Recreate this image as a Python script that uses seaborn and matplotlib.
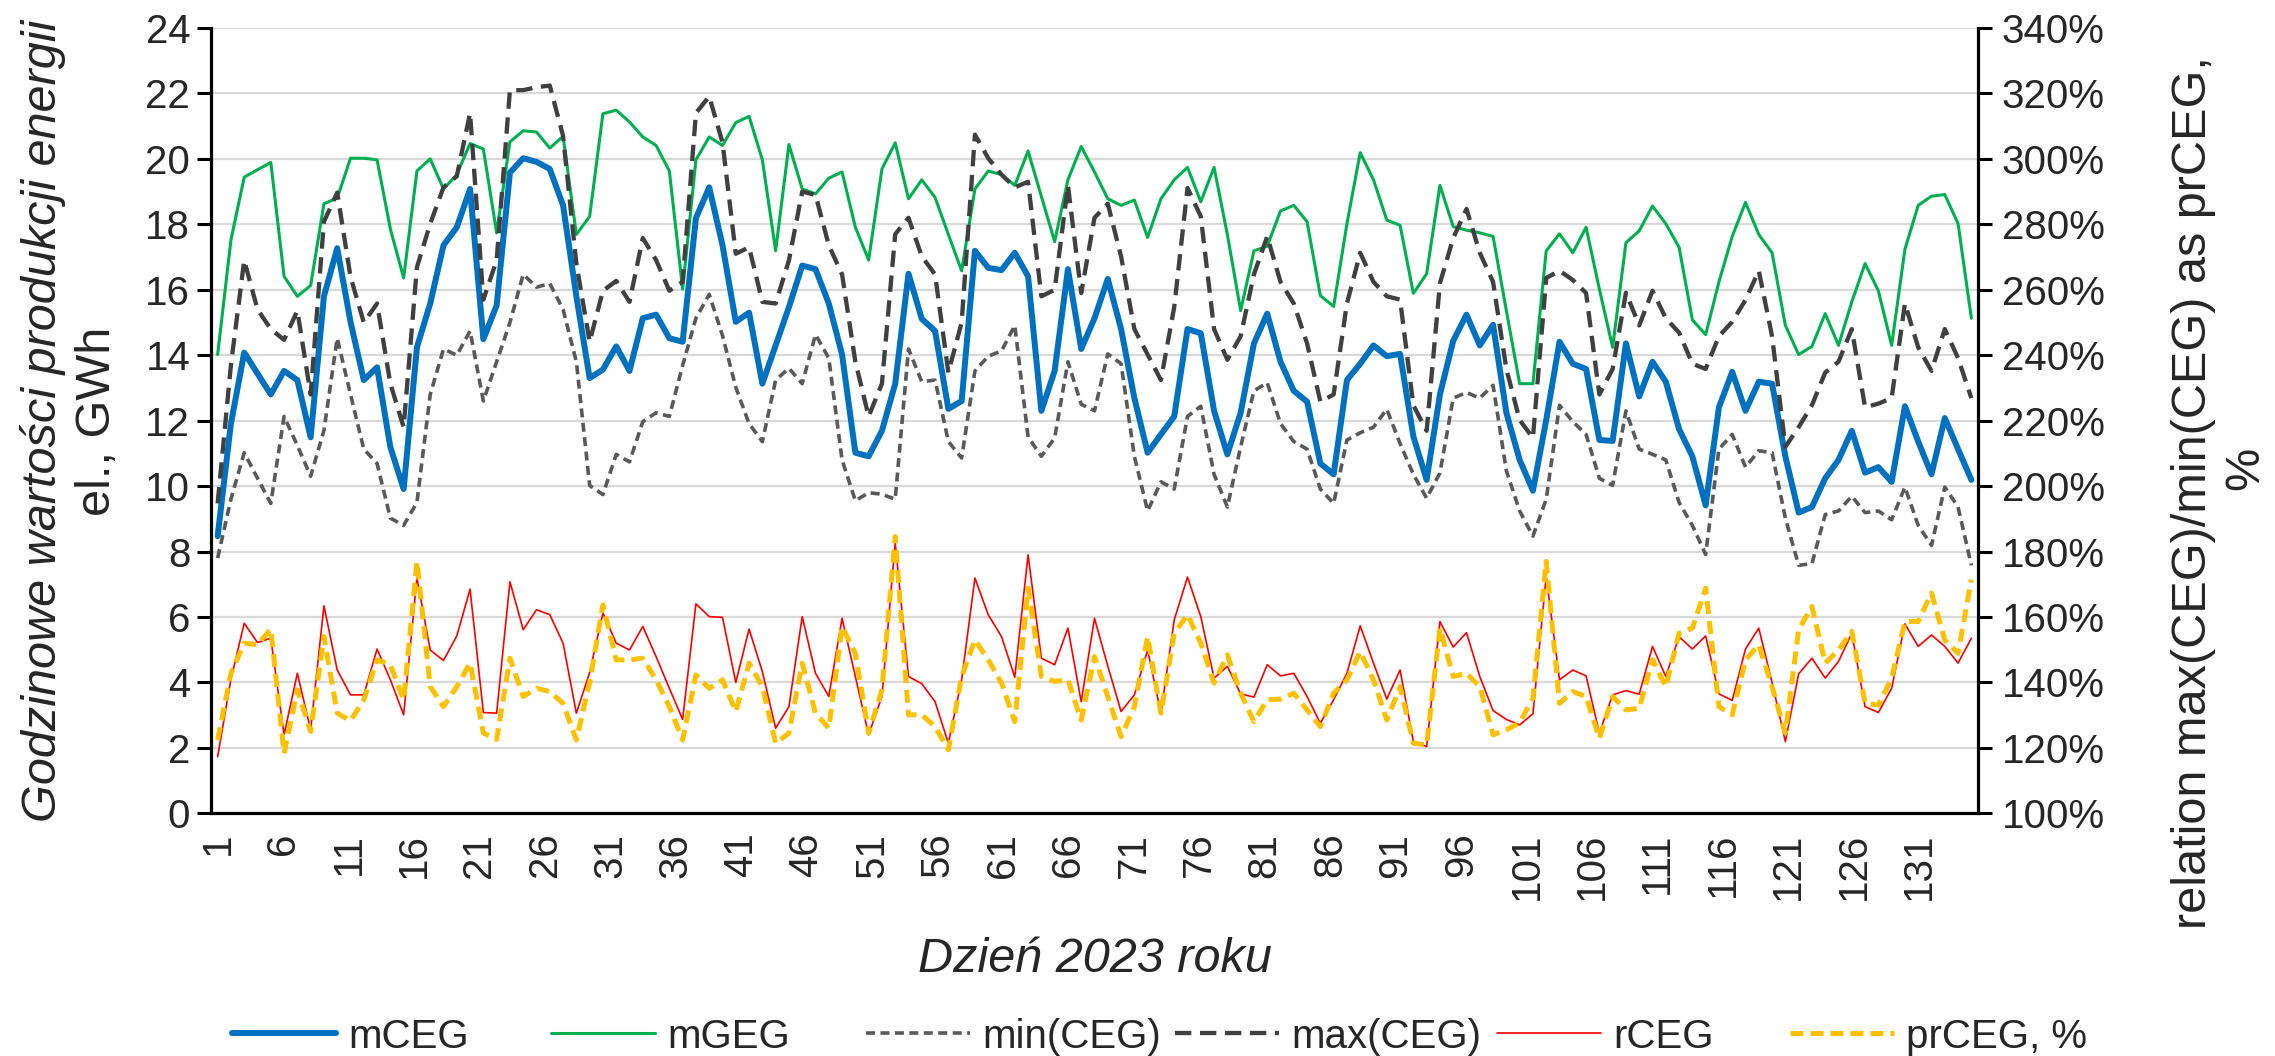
import matplotlib
matplotlib.use("Agg")
import matplotlib.pyplot as plt
import seaborn as sns
import pandas as pd
from matplotlib.lines import Line2D
from matplotlib.ticker import FuncFormatter

# ---------------- data ----------------
mCEG = [8.47, 11.91, 14.08, 13.44, 12.8, 13.52, 13.24, 11.49, 15.8, 17.27,
        15.02, 13.24, 13.63, 11.19, 9.91, 14.24, 15.58, 17.36, 17.91, 19.08,
        14.49, 15.52, 19.58, 20.02, 19.91, 19.69, 18.58, 15.8, 13.3, 13.56,
        14.27, 13.52, 15.13, 15.24, 14.52, 14.41, 18.19, 19.13, 17.36, 15.02,
        15.3, 13.13, 14.3, 15.47, 16.74, 16.63, 15.58, 14.02, 11.02, 10.91,
        11.69, 13.13, 16.49, 15.11, 14.74, 12.36, 12.6, 17.19, 16.67, 16.6,
        17.13, 16.41, 12.3, 13.52, 16.63, 14.19, 15.13, 16.33, 14.8, 12.69,
        11.02, 11.58, 12.13, 14.8, 14.67, 12.3, 10.97, 12.24, 14.36, 15.27,
        13.8, 12.91, 12.58, 10.69, 10.36, 13.24, 13.74, 14.3, 13.97, 14.04,
        11.52, 10.19, 12.8, 14.44, 15.24, 14.3, 14.93, 12.24, 10.8, 9.86,
        12.02, 14.41, 13.74, 13.58, 11.41, 11.38, 14.36, 12.74, 13.8, 13.19,
        11.74, 10.91, 9.41, 12.41, 13.49, 12.3, 13.19, 13.13, 10.91, 9.19,
        9.36, 10.24, 10.8, 11.69, 10.41, 10.58, 10.13, 12.44, 11.36, 10.36,
        12.08, 11.13, 10.19]

mGEG = [14.02, 17.52, 19.44, 19.67, 19.89, 16.41, 15.8, 16.13, 18.63, 18.8,
        20.02, 20.02, 19.97, 17.86, 16.36, 19.63, 20.0, 19.08, 19.52, 20.47,
        20.3, 17.74, 20.52, 20.86, 20.82, 20.33, 20.69, 17.69, 18.24, 21.38,
        21.49, 21.13, 20.67, 20.41, 19.63, 16.02, 19.97, 20.67, 20.41, 21.11,
        21.3, 19.97, 17.19, 20.44, 19.08, 18.93, 19.41, 19.6, 17.91, 16.91,
        19.69, 20.49, 18.78, 19.36, 18.82, 17.69, 16.58, 19.08, 19.63, 19.52,
        19.19, 20.24, 18.86, 17.47, 19.36, 20.38, 19.6, 18.78, 18.58, 18.74,
        17.6, 18.78, 19.36, 19.74, 18.69, 19.74, 17.69, 15.36, 17.19, 17.33,
        18.41, 18.58, 18.08, 15.82, 15.49, 18.02, 20.19, 19.36, 18.13, 17.97,
        15.89, 16.49, 19.19, 17.93, 17.82, 17.74, 17.63, 15.36, 13.13, 13.13,
        17.19, 17.71, 17.13, 17.91, 16.02, 14.24, 17.44, 17.8, 18.56, 18.02,
        17.3, 15.08, 14.63, 16.24, 17.63, 18.67, 17.69, 17.13, 14.91, 14.02,
        14.27, 15.27, 14.3, 15.63, 16.8, 15.97, 14.3, 17.24, 18.58, 18.86,
        18.91, 18.02, 15.13]

minCEG = [7.8, 9.6, 11.02, 10.24, 9.47, 12.13, 11.24, 10.3, 11.7, 14.52,
          12.8, 11.13, 10.69, 9.02, 8.8, 9.5, 12.8, 14.19, 14.0, 14.74,
          12.6, 13.8, 15.0, 16.47, 16.08, 16.19, 15.4, 13.8, 10.02, 9.74,
          10.97, 10.74, 11.97, 12.24, 12.13, 13.69, 15.13, 15.86, 14.6, 13.02,
          11.91, 11.36, 13.24, 13.6, 13.13, 14.63, 13.91, 10.8, 9.55, 9.8,
          9.75, 9.6, 14.19, 13.19, 13.24, 11.36, 10.86, 13.52, 13.97, 14.13,
          14.91, 11.5, 10.91, 11.47, 13.8, 12.5, 12.3, 14.04, 13.74, 10.91,
          9.24, 10.13, 9.91, 12.13, 12.44, 10.36, 9.36, 11.2, 12.91, 13.16,
          11.91, 11.36, 11.13, 9.91, 9.47, 11.41, 11.63, 11.8, 12.35, 11.3,
          10.36, 9.63, 10.4, 12.69, 12.86, 12.69, 13.08, 10.47, 9.24, 8.47,
          9.6, 12.47, 11.97, 11.58, 10.24, 10.02, 12.3, 11.13, 10.97, 10.8,
          9.5, 8.8, 7.91, 11.13, 11.58, 10.58, 11.08, 11.02, 9.02, 7.58,
          7.63, 9.13, 9.24, 9.69, 9.19, 9.24, 8.97, 9.97, 8.8, 8.19,
          9.97, 9.36, 7.58]

maxCEG = [9.47, 13.7, 16.9, 15.4, 14.8, 14.47, 15.36, 12.8, 18.08, 18.97,
          16.4, 15.0, 15.58, 13.13, 11.8, 16.69, 18.02, 19.13, 19.47, 21.4,
          15.7, 16.9, 22.1, 22.1, 22.19, 22.24, 20.7, 16.8, 14.41, 15.97,
          16.27, 15.63, 17.58, 16.91, 15.97, 16.24, 21.4, 21.91, 20.5, 17.1,
          17.3, 15.63, 15.58, 16.9, 19.0, 18.9, 17.36, 16.47, 13.8, 12.13,
          13.13, 17.7, 18.2, 17.02, 16.47, 13.47, 15.0, 20.74, 20.02, 19.52,
          19.13, 19.3, 15.8, 16.0, 19.19, 15.9, 18.2, 18.63, 17.02, 14.8,
          14.02, 13.24, 15.47, 19.11, 18.24, 14.8, 13.86, 14.58, 16.47, 17.63,
          16.24, 15.58, 14.36, 12.58, 12.8, 15.58, 17.13, 16.24, 15.8, 15.7,
          12.47, 11.69, 16.2, 17.58, 18.47, 17.13, 16.24, 13.58, 12.02, 11.47,
          16.36, 16.58, 16.3, 15.9, 12.8, 13.58, 15.91, 14.91, 15.97, 15.13,
          14.69, 13.74, 13.58, 14.58, 15.02, 15.69, 16.58, 14.58, 11.2, 11.8,
          12.47, 13.47, 13.8, 14.8, 12.41, 12.52, 12.69, 15.58, 14.24, 13.52,
          14.8, 13.91, 12.69]

rCEG = [1.73, 4.1, 5.81, 5.22, 5.35, 2.4, 4.28, 2.55, 6.34, 4.38,
        3.62, 3.62, 5.02, 4.08, 3.01, 7.19, 4.99, 4.67, 5.42, 6.85,
        3.08, 3.06, 7.08, 5.61, 6.22, 6.07, 5.2, 3.06, 4.3, 6.12,
        5.2, 4.99, 5.71, 4.79, 3.82, 2.87, 6.4, 6.01, 5.99, 4.0,
        5.63, 4.33, 2.6, 3.26, 6.01, 4.28, 3.57, 5.96, 4.18, 2.4,
        3.57, 8.26, 4.18, 3.96, 3.41, 2.14, 4.08, 7.19, 6.07, 5.4,
        4.16, 7.9, 4.74, 4.54, 5.66, 3.41, 5.96, 4.5, 3.11, 3.62,
        4.99, 3.06, 5.91, 7.22, 6.01, 4.13, 4.49, 3.65, 3.55, 4.54,
        4.2, 4.28, 3.57, 2.75, 3.47, 4.28, 5.73, 4.59, 3.49, 4.38,
        2.19, 2.04, 5.86, 5.08, 5.52, 4.18, 3.14, 2.87, 2.7, 3.04,
        7.24, 4.08, 4.38, 4.2, 2.45, 3.62, 3.75, 3.64, 5.1, 4.18,
        5.4, 5.02, 5.42, 3.65, 3.45, 5.02, 5.66, 4.0, 2.19, 4.26,
        4.74, 4.13, 4.64, 5.5, 3.26, 3.08, 3.82, 5.79, 5.1, 5.45,
        5.1, 4.59, 5.35]

prCEG = [122.4, 142.8, 152, 151.5, 156.3, 118.3, 137.7, 125, 154, 130.6,
         128.3, 134.7, 146.9, 145.4, 134.7, 177, 138.7, 132.6, 138.7, 145.9,
         124.5, 122.6, 147.4, 135.7, 138.2, 137.2, 133.6, 122.4, 140, 163.7,
         146.9, 146.9, 147.4, 140.8, 132.6, 122.4, 142.3, 138.2, 140.8, 131.1,
         145.9, 138.7, 121.4, 124.5, 145.9, 130.6, 126, 157.1, 148.9, 124.5,
         137.7, 184.6, 130.1, 130.1, 126.5, 119.4, 141.8, 153, 146.9, 139.8,
         128, 168.8, 141.8, 140.3, 140.8, 128.5, 147.9, 135.7, 123.4, 132.6,
         154, 130.6, 155, 160.7, 152, 139.8, 148.4, 136.7, 128, 134.7,
         134.9, 136.7, 131.6, 126.5, 136.7, 140.8, 149.4, 140.8, 128.5, 138.7,
         121.4, 120.9, 156.6, 141.8, 142.8, 138.7, 124, 125.5, 127.7, 135.2,
         177, 133.6, 137.2, 135.7, 122.9, 135.7, 131.6, 132.1, 146.9, 138.7,
         155, 156.6, 168.8, 132.6, 130.1, 146.9, 151.5, 138.7, 124.5, 156.1,
         163.2, 145.9, 149.9, 155.6, 133.6, 133.1, 141.3, 158.6, 158.6, 167.3,
         153, 148.9, 171.4]

series_names = ["mCEG", "mGEG", "min(CEG)", "max(CEG)", "rCEG", "prCEG, %"]
left_ticks = list(range(0, 25, 2))
right_ticks = list(range(100, 341, 20))
# the category (label) axis of the reference shows 135 categories, labelled every 5th
label_categories = 135
x_tick_labels = [str(d) for d in range(1, label_categories + 1, 5)]

N = len(mCEG)
days = list(range(1, N + 1))

df = pd.DataFrame({"day": days, "mCEG": mCEG, "mGEG": mGEG, "minCEG": minCEG,
                   "maxCEG": maxCEG, "rCEG": rCEG, "prCEG": prCEG})

# ---------------- style ----------------
sns.set_theme(style="white")
plt.rcParams['font.family'] = ['Liberation Sans', 'DejaVu Sans']
plt.rcParams['lines.scale_dashes'] = True

W, H = 2275, 1056
fig = plt.figure(figsize=(W / 100, H / 100), dpi=100)
L, R, T, B = 211, 1978, 28, 813.3
ax = fig.add_axes([L / W, 1 - B / H, (R - L) / W, (B - T) / H])
ax2 = ax.twinx()
axl = ax.twiny()   # category label axis

C_BLUE, C_GREEN, C_MIN, C_MAX, C_RED, C_YEL = "#0070C0", "#00B050", "#595959", "#404040", "#FF0000", "#FFC000"
st = {
    "mCEG": dict(color=C_BLUE, linewidth=4.3, linestyle="-"),
    "mGEG": dict(color=C_GREEN, linewidth=2.2, linestyle="-"),
    "minCEG": dict(color=C_MIN, linewidth=2.6, linestyle=(0, (2.5, 1.5))),
    "maxCEG": dict(color=C_MAX, linewidth=3.1, linestyle=(0, (3.8, 2.0))),
    "rCEG": dict(color=C_RED, linewidth=1.2, linestyle="-"),
    "prCEG": dict(color=C_YEL, linewidth=3.6, linestyle=(0, (2.6, 1.4))),
}

for col in ["mCEG", "mGEG", "minCEG", "maxCEG", "rCEG"]:
    sns.lineplot(data=df, x="day", y=col, ax=ax, errorbar=None, legend=False,
                 solid_joinstyle="round", **st[col])
sns.lineplot(data=df, x="day", y="prCEG", ax=ax2, errorbar=None, legend=False,
             **st["prCEG"])

ax.set_xlim(0.5, N + 0.5)
ax.set_ylim(0, 24)
ax2.set_ylim(100, 340)
ax.set_yticks(left_ticks)
ax2.set_yticks(right_ticks)
ax2.yaxis.set_major_formatter(FuncFormatter(lambda v, p: f"{int(round(v))}%"))
ax.set_xticks([])

axl.set_xlim(0.5, label_categories + 0.5)
axl.set_xticks(list(range(1, label_categories + 1, 5)))
axl.set_xticklabels(x_tick_labels, rotation=90)
axl.xaxis.set_ticks_position("bottom")
axl.xaxis.set_label_position("bottom")

for a in (ax, ax2, axl):
    a.set_xlabel("")
    a.set_ylabel("")

ax.yaxis.grid(True, color="#D9D9D9", linewidth=1.6)
ax.xaxis.grid(False)
ax2.grid(False)
axl.grid(False)
ax.set_axisbelow(True)

for a in (ax, ax2, axl):
    for s in a.spines.values():
        s.set_visible(False)
ax.spines["left"].set_visible(True)
ax.spines["bottom"].set_visible(True)
ax2.spines["right"].set_visible(True)
for s in (ax.spines["left"], ax.spines["bottom"], ax2.spines["right"]):
    s.set_color("black")
    s.set_linewidth(2.3)

FS = 29
ax.tick_params(axis="y", which="both", left=True, direction="out", length=10,
               width=2.2, color="black", labelsize=FS, pad=5)
ax.tick_params(axis="x", which="both", bottom=False, top=False, length=0,
               labelbottom=False, labeltop=False)
axl.tick_params(axis="x", which="both", bottom=False, top=False, length=0,
                labelbottom=True, labeltop=False, labelsize=FS, pad=14)
ax2.tick_params(axis="y", which="both", right=True, direction="out", length=10,
                width=2.2, color="black", labelsize=FS, pad=7)

# axis titles
TFS = 35
fig.text(43.5 / W, 1 - 421 / H, "Godzinowe wartości produkcji energii", rotation=90,
         ha="center", va="center", fontsize=TFS, style="italic")
fig.text(97 / W, 1 - 421 / H, "el., GWh", rotation=90, ha="center", va="center", fontsize=TFS)
fig.text(2194 / W, 1 - 493 / H, "relation max(CEG)/min(CEG) as prCEG,", rotation=90,
         ha="center", va="center", fontsize=TFS)
fig.text(2246 / W, 1 - 468 / H, "%", rotation=90, ha="center", va="center", fontsize=TFS)
fig.text(1095 / W, 1 - 960 / H, "Dzień 2023 roku", ha="center", va="center",
         fontsize=TFS, style="italic")

# legend (Excel-like evenly spaced entries)
leg_keys = ["mCEG", "mGEG", "minCEG", "maxCEG", "rCEG", "prCEG"]
leg_x = [232, 551, 866, 1175, 1497, 1790]
leg_y = 1 - 1033 / H
HL = 104
for k, name, x0 in zip(leg_keys, series_names, leg_x):
    ln = Line2D([x0 / W, (x0 + HL) / W], [leg_y, leg_y], transform=fig.transFigure, **st[k])
    fig.add_artist(ln)
    fig.text((x0 + HL + 12) / W, leg_y, name, ha="left", va="center_baseline", fontsize=FS)

fig.savefig("out.png", dpi=100)
